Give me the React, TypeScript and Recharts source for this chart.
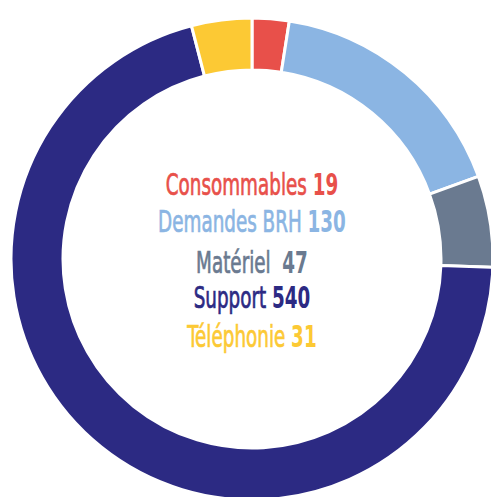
import React from 'react';
import { PieChart, Pie, Cell, Label } from 'recharts';

const categories = ['Consommables', 'Demandes BRH', 'Matériel\u00A0', 'Support', 'Téléphonie'];
const values = [19, 130, 47, 540, 31];
const colors = ['#E8504A', '#8BB5E3', '#6A7A90', '#2C2A83', '#FCC934'];

const data = categories.map((name, i) => ({ name, value: values[i] }));

const FONT = "'DejaVu Sans Condensed', 'DejaVu Sans', sans-serif";

// Centered legend-like text block inside the donut (squeezed to look condensed)
function CenterText(props: any) {
  const vb = props.viewBox || {};
  const cx = vb.cx ?? 252;
  const cy = vb.cy ?? 259;
  const baselines = [-64, -27, 14, 49, 88];
  return (
    <g transform={`translate(${cx},0) scale(0.68,1) translate(${-cx},0)`}>
      {data.map((d, i) => (
        <text
          key={d.name}
          x={cx}
          y={cy + baselines[i]}
          textAnchor="middle"
          fill={colors[i]}
          fontFamily={FONT}
          fontSize={30}
        >
          <tspan stroke={colors[i]} strokeWidth={0.7}>{d.name} </tspan>
          <tspan fontWeight="bold">{d.value}</tspan>
        </text>
      ))}
    </g>
  );
}

export default function App() {
  return (
    <div style={{ position: 'absolute', left: 0, top: 0, width: 491, height: 497, background: '#fff' }}>
      <PieChart width={491} height={497} margin={{ top: 0, right: 0, bottom: 0, left: 0 }}>
        <Pie
          data={data}
          dataKey="value"
          nameKey="name"
          cx={252}
          cy={259}
          innerRadius={189}
          outerRadius={241}
          startAngle={90}
          endAngle={-270}
          stroke="#fff"
          strokeWidth={3}
          isAnimationActive={false}
        >
          {data.map((d, i) => (
            <Cell key={d.name} fill={colors[i]} />
          ))}
          <Label position="center" content={<CenterText />} />
        </Pie>
      </PieChart>
    </div>
  );
}
